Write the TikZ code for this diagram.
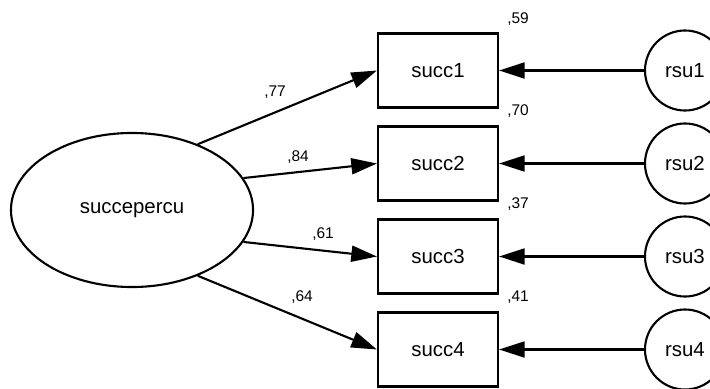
\documentclass[tikz,border=0pt]{standalone}
\usepackage{fontspec}
\setmainfont{Liberation Sans}
\usetikzlibrary{arrows.meta,shapes.geometric}
\tikzset{
	latent/.style={draw, ellipse, line width=1.5pt, minimum width=6.05cm, minimum height=3.85cm, inner sep=0pt, font=\fontsize{14.5}{16}\selectfont},
	observed/.style={draw, rectangle, line width=1.5pt, minimum width=3.0cm, minimum height=1.85cm, inner sep=0pt, font=\fontsize{14.5}{16}\selectfont},
	resid/.style={draw, circle, line width=1.5pt, minimum size=2cm, inner sep=0pt, font=\fontsize{14.5}{16}\selectfont},
	path/.style={line width=1.5pt, -{Triangle[length=0.64cm, width=0.4cm]}},
	coef/.style={font=\fontsize{11}{13}\selectfont, inner sep=0pt}
}

\begin{document}
\begin{tikzpicture}[x=0.025cm, y=-0.025cm]
			%%%%% START %%%%%
			\useasboundingbox (0, 0) rectangle (710, 388);
			
			\node[latent] (sp) at (132, 210) {succepercu};
			
			\node[observed] (s1) at (438, 70.5) {succ1};
			\node[observed] (s2) at (438, 163.5) {succ2};
			\node[observed] (s3) at (438, 256.5) {succ3};
			\node[observed] (s4) at (438, 349.5) {succ4};
			
			\node[resid] (r1) at (685, 70.5) {rsu1};
			\node[resid] (r2) at (685, 163.5) {rsu2};
			\node[resid] (r3) at (685, 256.5) {rsu3};
			\node[resid] (r4) at (685, 349.5) {rsu4};
			
			\draw[path] (sp.45) -- (s1.west);
			\draw[path] (sp.16) -- (s2.west);
			\draw[path] (sp.-16) -- (s3.west);
			\draw[path] (sp.-45) -- (s4.west);
			
			\draw[path] (r1) -- (s1);
			\draw[path] (r2) -- (s2);
			\draw[path] (r3) -- (s3);
			\draw[path] (r4) -- (s4);
			
			\node[coef] (l1) at (275, 92) {,77};
			\node[coef] (l2) at (298, 157) {,84};
			\node[coef] (l3) at (323, 234) {,61};
			\node[coef] (l4) at (302, 297) {,64};
			
			\node[coef] (v1) at (518, 19) {,59};
			\node[coef] (v2) at (518, 111) {,70};
			\node[coef] (v3) at (518, 204) {,37};
			\node[coef] (v4) at (518, 297) {,41};
			%%%%% END %%%%%
\end{tikzpicture}
\end{document}
